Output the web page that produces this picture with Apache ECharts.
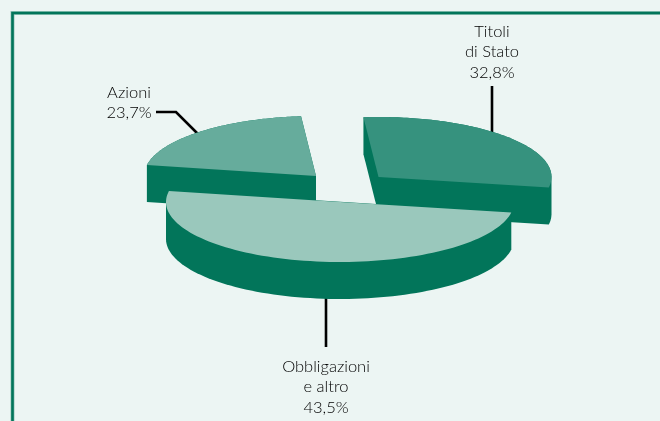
<!DOCTYPE html>
<html><head><meta charset="utf-8">
<style>html,body{margin:0;padding:0;background:#ecf5f3}#c{width:660px;height:421px}</style>
<script src="https://cdn.jsdelivr.net/npm/echarts@6/dist/echarts.min.js"></script>
</head><body><div id="c"></div>
<script>
// --- data ---
const categories = ['Azioni', 'Titoli di Stato', 'Obbligazioni e altro'];
const values = [23.7, 32.8, 43.5];
const labelLines = [['Azioni', '23,7%'], ['Titoli', 'di Stato', '32,8%'], ['Obbligazioni', 'e altro', '43,5%']];

// --- styles and layout ---
const topColors = ['#66ac9c', '#36927e', '#9ac8bc'];
const wallColor = '#02755a';
const bg = '#ecf5f3';
const apexes = [[316, 176], [378.5, 177], [340, 202]];
const radiiX = [172, 173, 174];
const radiusY = 60, depth = 37;
// the picture's projection distorts sweep angles: a small warp on top of the value angles
const warpShift = 10.5, warpA = 0.49, warpB = -12.3;
const labelAnchors = [[129, 82], [492, 21], [326, 356]];
const leaders = [[[156, 112], [176, 112], [198, 134]], [[492, 86], [492, 134]], [[326, 298], [326, 347]]];

const rad = d => d * Math.PI / 180;
const warp = p => p + warpShift + warpA * Math.sin(rad(p)) + warpB * (1 - Math.cos(rad(p)));
const total = values.reduce((a, b) => a + b, 0);

function arc(i) {
  const start = values.slice(0, i).reduce((a, b) => a + b, 0) / total * 360;
  const end = start + values[i] / total * 360;
  const [ax, ay] = apexes[i];
  const pts = [];
  const n = 90;
  for (let k = 0; k <= n; k++) {
    const al = rad(warp(start + (end - start) * k / n) - 90);
    pts.push([ax + radiiX[i] * Math.sin(al), ay - radiusY * Math.cos(al)]);
  }
  return pts;
}

// the extruded slice is the convex hull of its top face and the same face moved down
function hull(points) {
  const p = points.slice().sort((a, b) => a[0] - b[0] || a[1] - b[1]);
  const cross = (o, a, b) => (a[0] - o[0]) * (b[1] - o[1]) - (a[1] - o[1]) * (b[0] - o[0]);
  const half = list => {
    const h = [];
    list.forEach(q => {
      while (h.length > 1 && cross(h[h.length - 2], h[h.length - 1], q) <= 0) h.pop();
      h.push(q);
    });
    h.pop();
    return h;
  };
  return half(p).concat(half(p.slice().reverse()));
}

function renderSlice(params) {
  const i = params.dataIndex;
  const top = [apexes[i]].concat(arc(i));
  const solid = hull(top.concat(top.map(p => [p[0], p[1] + depth])));
  return { type: 'group', children: [
    { type: 'polygon', silent: true, shape: { points: solid }, style: { fill: wallColor } },
    { type: 'polygon', shape: { points: top }, style: { fill: topColors[i] } }
  ] };
}

function renderLeader(params) {
  return { type: 'polyline', silent: true, shape: { points: leaders[params.dataIndex] },
    style: { stroke: '#000', lineWidth: 2.6, fill: null } };
}

function renderLabel(params) {
  const i = params.dataIndex;
  return { type: 'text', silent: true, x: labelAnchors[i][0], y: labelAnchors[i][1],
    style: { text: labelLines[i].join('\n'), font: '300 16.5px Lato', lineHeight: 20.5,
      fill: '#000', align: 'center', verticalAlign: 'top' } };
}

const chart = echarts.init(document.getElementById('c'), null, { renderer: 'canvas' });
const items = categories.map((c, i) => ({ name: c, value: values[i] }));
chart.setOption({
  animation: false,
  backgroundColor: bg,
  graphic: [
    { type: 'polyline', z: 0, shape: { points: [[12.5, 421], [12.5, 13], [660, 13]] },
      style: { stroke: '#9ac8bc', lineWidth: 4, fill: null } },
    { type: 'polyline', z: 1, shape: { points: [[12.5, 421], [12.5, 13], [660, 13]] },
      style: { stroke: wallColor, lineWidth: 2.6, fill: null } }
  ],
  series: [
    { type: 'custom', name: 'leaders', coordinateSystem: 'none', z: 2, renderItem: renderLeader, data: items },
    { type: 'custom', name: 'quote', coordinateSystem: 'none', z: 3, renderItem: renderSlice, data: items },
    { type: 'custom', name: 'labels', coordinateSystem: 'none', z: 4, renderItem: renderLabel, data: items }
  ]
});
</script></body></html>
